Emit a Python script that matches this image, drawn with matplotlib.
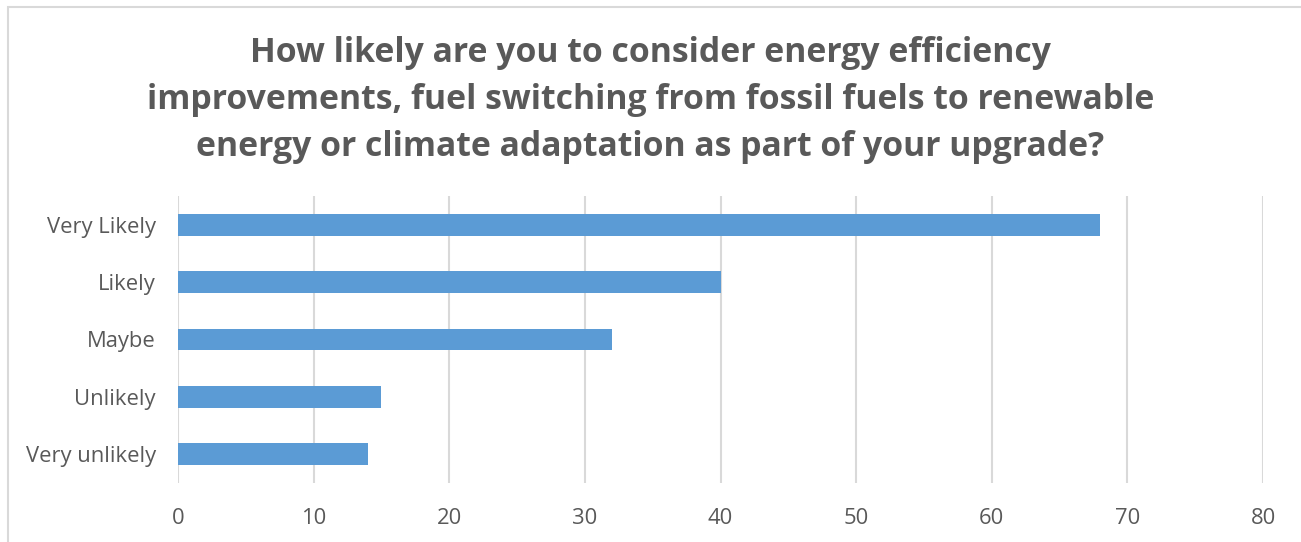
import matplotlib.pyplot as plt
from matplotlib.patches import Rectangle

categories = ['Very Likely', 'Likely', 'Maybe', 'Unlikely', 'Very unlikely']
values = [68, 40, 32, 15, 14]
x_ticks = [0, 10, 20, 30, 40, 50, 60, 70, 80]

title = ('How likely are you to consider energy efficiency\n'
         'improvements, fuel switching from fossil fuels to renewable\n'
         'energy or climate adaptation as part of your upgrade?')

text_color = '#595959'
grid_color = '#D9D9D9'
bar_color = '#5B9BD5'

plt.rcParams['font.family'] = ['Open Sans', 'DejaVu Sans']

fig = plt.figure(figsize=(13.01, 5.42), dpi=100)
# chart border
fig.patches.append(Rectangle((8 / 1301, -0.01), 1.1, 1 - 7 / 542 + 0.01, transform=fig.transFigure,
                             fill=False, edgecolor='#D9D9D9', linewidth=1.5))

ax = fig.add_axes([178 / 1301, 1 - 483 / 542, (1263 - 178) / 1301, (483 - 196) / 542])

pos = list(range(len(categories)))
ax.barh(pos, values, height=0.38, color=bar_color, zorder=3)
ax.set_ylim(len(categories) - 0.5, -0.5)
ax.set_yticks(pos)
ax.set_yticklabels(categories)
ax.set_xlim(0, 80)
ax.set_xticks(x_ticks)
ax.grid(axis='x', color=grid_color, linewidth=1.5, zorder=0)
for s in ax.spines.values():
    s.set_visible(False)
ax.tick_params(length=0, labelsize=15.8, labelcolor=text_color)
ax.tick_params(axis='x', pad=18)
ax.tick_params(axis='y', pad=16)

fig.text(0.5, 0.816, title, ha='center', va='center', fontsize=24.3, fontweight='bold',
         color=text_color, linespacing=1.5)

fig.savefig('out.png', dpi=100)
